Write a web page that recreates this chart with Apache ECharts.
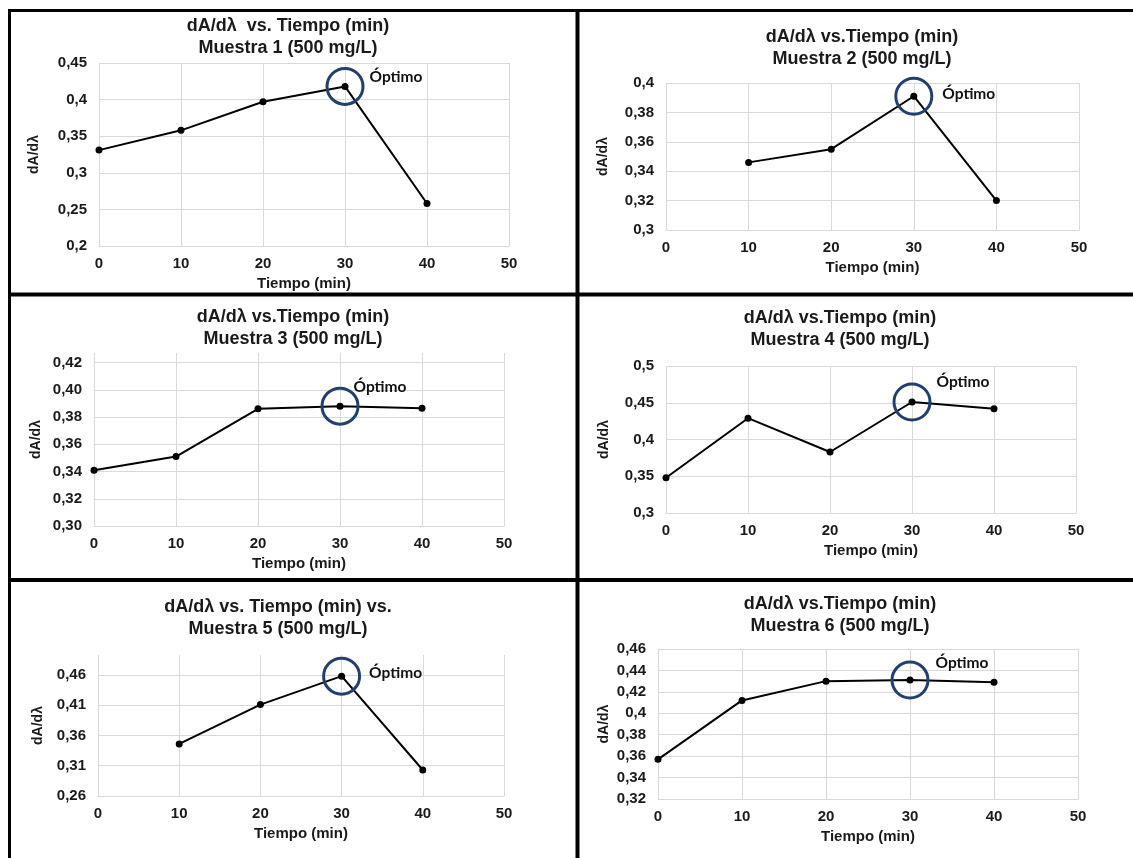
<!DOCTYPE html>
<html>
<head>
<meta charset="utf-8">
<script src="https://cdn.jsdelivr.net/npm/echarts@6/dist/echarts.min.js"></script>
<style>
  html, body { margin: 0; padding: 0; background: #ffffff; }
  #chart { width: 1133px; height: 858px; }
</style>
</head>
<body>
<div id="chart"></div>
<script>
// Tiempo (min) sampled for every sample
const tiempo = [0, 10, 20, 30, 40];
const xTicks = [0, 10, 20, 30, 40, 50];
const xLabels = ['0', '10', '20', '30', '40', '50'];

// dA/dλ readings per sample (null = not measured)
const muestra1 = [0.331, 0.358, 0.397, 0.418, 0.258];
const muestra2 = [null, 0.346, 0.355, 0.391, 0.320];
const muestra3 = [0.341, 0.351, 0.386, 0.388, 0.3865];
const muestra4 = [0.348, 0.429, 0.383, 0.451, 0.442];
const muestra5 = [null, 0.346, 0.411, 0.458, 0.303];
const muestra6 = [0.357, 0.412, 0.430, 0.431, 0.429];

// time chosen as optimum for each sample
const optimo = [30, 30, 30, 30, 30, 30];

// chart titles
const titulos = [
  'dA/dλ  vs. Tiempo (min)\nMuestra 1 (500 mg/L)',
  'dA/dλ vs.Tiempo (min)\nMuestra 2 (500 mg/L)',
  'dA/dλ vs.Tiempo (min)\nMuestra 3 (500 mg/L)',
  'dA/dλ vs.Tiempo (min)\nMuestra 4 (500 mg/L)',
  'dA/dλ vs. Tiempo (min) vs.\nMuestra 5 (500 mg/L)',
  'dA/dλ vs.Tiempo (min)\nMuestra 6 (500 mg/L)'
];

// y axis ticks and their labels
const yTicks1 = [0.2, 0.25, 0.3, 0.35, 0.4, 0.45];
const yLabels1 = ['0,2', '0,25', '0,3', '0,35', '0,4', '0,45'];
const yTicks2 = [0.3, 0.32, 0.34, 0.36, 0.38, 0.4];
const yLabels2 = ['0,3', '0,32', '0,34', '0,36', '0,38', '0,4'];
const yTicks3 = [0.30, 0.32, 0.34, 0.36, 0.38, 0.40, 0.42];
const yLabels3 = ['0,30', '0,32', '0,34', '0,36', '0,38', '0,40', '0,42'];
const yTicks4 = [0.3, 0.35, 0.4, 0.45, 0.5];
const yLabels4 = ['0,3', '0,35', '0,4', '0,45', '0,5'];
const yTicks5 = [0.26, 0.31, 0.36, 0.41, 0.46];
const yLabels5 = ['0,26', '0,31', '0,36', '0,41', '0,46'];
const yTicks6 = [0.32, 0.34, 0.36, 0.38, 0.4, 0.42, 0.44, 0.46];
const yLabels6 = ['0,32', '0,34', '0,36', '0,38', '0,4', '0,42', '0,44', '0,46'];

// upper end of each value axis
const yTop = [0.45, 0.4, 0.427, 0.5, 0.493, 0.46];

const series = [muestra1, muestra2, muestra3, muestra4, muestra5, muestra6];
const yTicks = [yTicks1, yTicks2, yTicks3, yTicks4, yTicks5, yTicks6];
const yLabels = [yLabels1, yLabels2, yLabels3, yLabels4, yLabels5, yLabels6];

// panel layout (pixels)
const layout = [
  { grid: { left: 99, top: 63, width: 410, height: 183 }, title: [288, 15], yGap: 58, labelDist: 5, labelOff: [0, -9] },
  { grid: { left: 666, top: 83, width: 413, height: 147 }, title: [862, 26], yGap: 56, labelDist: 9, labelOff: [0, -2] },
  { grid: { left: 94, top: 353, width: 410, height: 173 }, title: [293, 306], yGap: 51, labelDist: 0, labelOff: [-6, -19] },
  { grid: { left: 666, top: 366, width: 410, height: 147 }, title: [840, 307], yGap: 55, labelDist: 5, labelOff: [0, -20] },
  { grid: { left: 98, top: 655, width: 406, height: 141 }, title: [278, 596], yGap: 53, labelDist: 8, labelOff: [0, -3] },
  { grid: { left: 658, top: 649, width: 420, height: 150 }, title: [840, 593], yGap: 47, labelDist: 6, labelOff: [0, -17] }
];

const FONT = '"Liberation Sans", Arial, sans-serif';
const TEXT = '#1a1a1a';
const GRID_LINE = '#d9d9d9';

function labelFrom(ticks, labels) {
  return function (v) {
    const i = ticks.findIndex(t => Math.abs(t - v) < 1e-6);
    return i >= 0 ? labels[i] : '';
  };
}

const option = {
  backgroundColor: '#ffffff',
  animation: false,
  title: [],
  grid: [],
  xAxis: [],
  yAxis: [],
  series: [],
  graphic: []
};

layout.forEach((L, k) => {
  option.title.push({
    text: titulos[k],
    left: L.title[0],
    top: L.title[1],
    textAlign: 'center',
    padding: 0,
    textStyle: { fontFamily: FONT, fontWeight: 'bold', fontSize: 18, lineHeight: 22, color: TEXT }
  });

  option.grid.push(Object.assign({ outerBoundsMode: 'none', containLabel: false }, L.grid));

  option.xAxis.push({
    type: 'value',
    gridIndex: k,
    min: xTicks[0],
    max: xTicks[xTicks.length - 1],
    interval: xTicks[1] - xTicks[0],
    name: 'Tiempo (min)',
    nameLocation: 'middle',
    nameGap: 30,
    nameTextStyle: { fontFamily: FONT, fontWeight: 'bold', fontSize: 15, color: TEXT },
    axisLine: { show: true, lineStyle: { color: GRID_LINE, width: 1 } },
    axisTick: { show: false },
    axisLabel: {
      margin: 10,
      fontFamily: FONT, fontWeight: 'bold', fontSize: 15, color: TEXT,
      hideOverlap: false,
      formatter: labelFrom(xTicks, xLabels)
    },
    splitLine: { show: true, lineStyle: { color: GRID_LINE, width: 1 } }
  });

  const t = yTicks[k];
  option.yAxis.push({
    type: 'value',
    gridIndex: k,
    min: t[0],
    max: yTop[k],
    interval: Math.round((t[1] - t[0]) * 1e6) / 1e6,
    name: 'dA/dλ',
    nameLocation: 'middle',
    nameGap: L.yGap,
    nameRotate: 90,
    nameTextStyle: { fontFamily: FONT, fontWeight: 'bold', fontSize: 14, color: TEXT },
    axisLine: { show: false },
    axisTick: { show: false },
    axisLabel: {
      margin: 12,
      fontFamily: FONT, fontWeight: 'bold', fontSize: 15, color: TEXT,
      hideOverlap: false,
      showMaxLabel: yTop[k] === t[t.length - 1],
      formatter: labelFrom(t, yLabels[k])
    },
    splitLine: {
      show: true,
      showMaxLine: yTop[k] === t[t.length - 1],
      lineStyle: { color: GRID_LINE, width: 1 }
    }
  });

  const pts = [];
  tiempo.forEach((x, i) => { if (series[k][i] !== null) pts.push([x, series[k][i]]); });

  option.series.push({
    type: 'line',
    xAxisIndex: k,
    yAxisIndex: k,
    data: pts,
    symbol: 'circle',
    symbolSize: 7,
    lineStyle: { color: '#000000', width: 2 },
    itemStyle: { color: '#000000' },
    z: 3
  });

  const oi = tiempo.indexOf(optimo[k]);
  option.series.push({
    type: 'scatter',
    xAxisIndex: k,
    yAxisIndex: k,
    data: [[optimo[k], series[k][oi]]],
    symbol: 'circle',
    symbolSize: 36,
    itemStyle: { color: 'rgba(0,0,0,0)', borderColor: '#223f6e', borderWidth: 3, opacity: 1 },
    label: {
      show: true,
      position: 'right',
      distance: L.labelDist,
      offset: L.labelOff,
      formatter: 'Óptimo',
      fontFamily: 'Lato, "Open Sans", sans-serif',
      fontWeight: 'bold',
      fontSize: 15.5,
      color: '#111111'
    },
    z: 4
  });
});

// panel frame
const frame = { stroke: '#000000' };
option.graphic = [
  { type: 'line', shape: { x1: 8, y1: 10.5, x2: 1133, y2: 10.5 }, style: Object.assign({ lineWidth: 3 }, frame) },
  { type: 'line', shape: { x1: 9.5, y1: 9, x2: 9.5, y2: 858 }, style: Object.assign({ lineWidth: 3 }, frame) },
  { type: 'line', shape: { x1: 577.5, y1: 9, x2: 577.5, y2: 858 }, style: Object.assign({ lineWidth: 4 }, frame) },
  { type: 'line', shape: { x1: 8, y1: 294.5, x2: 1133, y2: 294.5 }, style: Object.assign({ lineWidth: 4 }, frame) },
  { type: 'line', shape: { x1: 8, y1: 580, x2: 1133, y2: 580 }, style: Object.assign({ lineWidth: 4 }, frame) }
];

const chart = echarts.init(document.getElementById('chart'), null, { renderer: 'canvas' });
chart.setOption(option);
</script>
</body>
</html>
